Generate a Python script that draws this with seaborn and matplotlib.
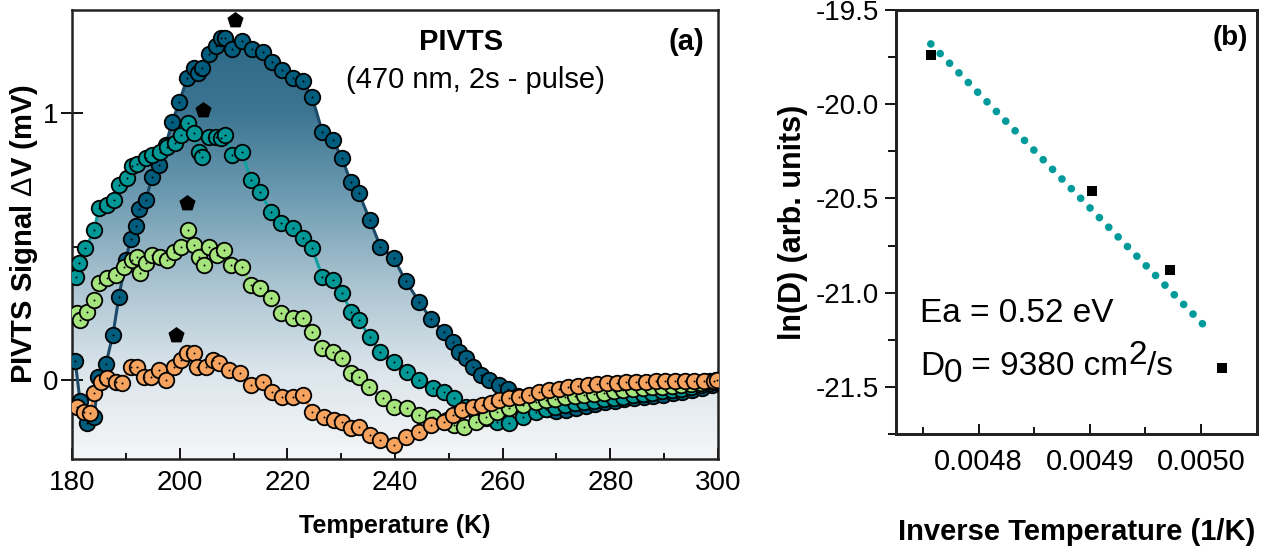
import numpy as np
import pandas as pd
import matplotlib
matplotlib.use("Agg")
import matplotlib.pyplot as plt
from matplotlib.colors import LinearSegmentedColormap
from matplotlib.patches import Rectangle
from matplotlib.ticker import MultipleLocator, FormatStrFormatter
import seaborn as sns

# ---- panel (a) data : PIVTS signal (mV) vs temperature (K)
T_dark = [180.6, 181.5, 182.8, 184.1, 184.9, 186.3, 187.6, 188.7, 190.0, 190.9, 191.8, 192.4,
          193.7, 194.9, 196.1, 197.4, 198.6, 199.9, 201.4, 202.6, 203.4, 204.2, 205.4, 206.7,
          207.6, 208.4, 209.8, 211.6, 213.5, 215.4, 217.2, 219.1, 221.0, 222.9, 224.6, 226.5,
          228.4, 230.2, 231.8, 233.3, 235.3, 237.3, 239.8, 242.0, 244.5, 246.6, 249.1, 250.7,
          251.9, 253.1, 254.4, 255.9, 257.5, 259.3, 261.0, 262.8, 264.6, 266.4, 268.2, 270.0,
          271.8, 273.6, 275.4, 277.2, 279.0, 280.8, 282.6, 284.4, 286.2, 288.0, 289.8, 291.6,
          293.4, 295.2, 297.0, 298.8, 299.6]
V_dark = [0.07, -0.08, -0.16, -0.14, 0.01, 0.06, 0.17, 0.31, 0.45, 0.53, 0.575, 0.64,
          0.675, 0.76, 0.805, 0.88, 0.965, 1.04, 1.13, 1.17, 1.15, 1.17, 1.22, 1.25,
          1.28, 1.28, 1.24, 1.27, 1.24, 1.23, 1.19, 1.16, 1.13, 1.12, 1.06, 0.93,
          0.90, 0.83, 0.74, 0.70, 0.60, 0.50, 0.456, 0.37, 0.293, 0.23, 0.18, 0.143,
          0.106, 0.081, 0.05, 0.019, 0.0, -0.02, -0.035, -0.06, -0.085, -0.10, -0.11, -0.115,
          -0.112, -0.105, -0.097, -0.09, -0.083, -0.077, -0.072, -0.068, -0.063, -0.059, -0.055, -0.05,
          -0.045, -0.038, -0.03, -0.018, -0.008]

T_teal = [180.7, 181.3, 182.5, 184.1, 185.0, 186.5, 187.8, 188.7, 190.3, 191.2, 192.1, 193.7,
          194.9, 196.4, 197.7, 199.2, 200.2, 201.5, 202.6, 203.6, 204.2, 205.4, 206.7, 207.6,
          208.5, 209.8, 211.6, 213.2, 215.0, 216.9, 218.8, 221.0, 222.9, 224.6, 226.5, 228.4,
          230.2, 231.8, 233.3, 235.3, 237.3, 239.8, 242.3, 244.5, 247.0, 249.1, 251.0, 253.1,
          255.0, 256.9, 259.0, 261.2, 263.7, 266.2, 268.0, 269.8, 271.6, 273.4, 275.2, 277.0,
          278.8, 280.6, 282.4, 284.2, 286.0, 287.8, 289.6, 291.4, 293.2, 295.0, 296.8, 298.6, 299.6]
V_teal = [0.387, 0.437, 0.493, 0.56, 0.643, 0.655, 0.674, 0.73, 0.755, 0.80, 0.81, 0.83,
          0.843, 0.855, 0.874, 0.886, 0.918, 0.961, 0.924, 0.855, 0.836, 0.911, 0.911, 0.905,
          0.918, 0.843, 0.855, 0.75, 0.705, 0.63, 0.587, 0.568, 0.531, 0.493, 0.387, 0.375,
          0.325, 0.256, 0.225, 0.16, 0.106, 0.069, 0.031, 0.0, -0.031, -0.044, -0.069, -0.10,
          -0.125, -0.144, -0.156, -0.162, -0.137, -0.119, -0.108, -0.10, -0.094, -0.088, -0.083, -0.078,
          -0.072, -0.067, -0.062, -0.057, -0.052, -0.048, -0.043, -0.038, -0.033, -0.027, -0.02, -0.012, -0.005]

T_green = [181.0, 181.5, 182.8, 184.1, 185.0, 186.5, 188.1, 189.6, 191.2, 192.1, 192.7, 193.7,
           194.9, 196.4, 197.7, 198.9, 200.2, 201.6, 202.6, 203.6, 204.5, 205.4, 207.0, 208.2,
           209.5, 211.6, 213.2, 215.0, 216.9, 218.8, 221.0, 222.9, 224.6, 226.5, 228.4, 230.2,
           231.8, 233.3, 235.2, 237.7, 239.8, 242.3, 244.5, 247.0, 249.6, 251.0, 252.8, 255.0,
           256.9, 259.0, 261.2, 263.7, 266.2, 268.0, 269.8, 271.6, 273.4, 275.2, 277.0, 278.8,
           280.6, 282.4, 284.2, 286.0, 287.8, 289.6, 291.4, 293.2, 295.0, 296.8, 298.6, 299.6]
V_green = [0.25, 0.225, 0.256, 0.30, 0.362, 0.381, 0.393, 0.424, 0.45, 0.462, 0.40, 0.437,
           0.468, 0.462, 0.45, 0.48, 0.50, 0.56, 0.506, 0.462, 0.43, 0.50, 0.468, 0.487,
           0.43, 0.424, 0.356, 0.343, 0.306, 0.25, 0.231, 0.231, 0.181, 0.119, 0.106, 0.081,
           0.025, 0.012, -0.025, -0.069, -0.10, -0.106, -0.131, -0.137, -0.15, -0.169, -0.175, -0.156,
           -0.137, -0.119, -0.106, -0.094, -0.081, -0.075, -0.07, -0.065, -0.06, -0.056, -0.051, -0.047,
           -0.043, -0.039, -0.035, -0.031, -0.028, -0.025, -0.021, -0.018, -0.014, -0.01, -0.005, 0.0]

T_orange = [181.0, 182.2, 183.4, 184.1, 185.3, 186.5, 188.1, 189.3, 190.9, 192.1, 193.3, 194.6,
            196.1, 197.4, 198.9, 200.2, 201.4, 202.6, 203.3, 204.8, 206.1, 207.3, 209.2, 211.3,
            213.2, 215.4, 217.2, 219.1, 221.0, 222.9, 224.6, 226.8, 228.7, 230.2, 231.8, 233.3,
            235.3, 237.3, 239.8, 242.0, 244.5, 246.6, 249.1, 250.7, 252.5, 254.4, 256.2, 257.8,
            259.3, 261.2, 263.0, 264.9, 266.8, 268.6, 270.4, 272.2, 274.0, 275.8, 277.6, 279.4,
            281.2, 283.0, 284.8, 286.6, 288.4, 290.2, 292.0, 293.8, 295.6, 297.4, 299.2, 299.8]
V_orange = [-0.10, -0.12, -0.124, -0.05, -0.006, 0.007, -0.006, -0.01, 0.05, 0.05, 0.012, 0.012,
            0.037, 0.0, 0.05, 0.075, 0.10, 0.10, 0.05, 0.05, 0.075, 0.062, 0.037, 0.025,
            -0.019, -0.006, -0.044, -0.063, -0.063, -0.056, -0.119, -0.137, -0.15, -0.156, -0.18, -0.175,
            -0.206, -0.225, -0.243, -0.212, -0.194, -0.169, -0.156, -0.131, -0.112, -0.10, -0.094, -0.087,
            -0.075, -0.069, -0.063, -0.056, -0.044, -0.038, -0.032, -0.027, -0.022, -0.018, -0.015, -0.012,
            -0.01, -0.008, -0.007, -0.006, -0.005, -0.005, -0.004, -0.004, -0.003, -0.003, -0.002, 0.0]

# peak markers (black pentagons)
T_peak = [210.2, 204.3, 201.3, 199.4]
V_peak = [1.35, 1.01, 0.663, 0.169]

# ---- panel (b) data : Arrhenius plot
inv_T = [0.004757, 0.0049015, 0.0049725, 0.0050186]
lnD = [-19.74, -20.463, -20.882, -21.401]
fit_x = [0.004757, 0.005007]
fit_y = [-19.68, -21.20]

series = [
    ("dark", T_dark, V_dark, "#005d7d", "#1d4a68"),
    ("teal", T_teal, V_teal, "#009797", "#11a0a0"),
    ("green", T_green, V_green, "#a6e47d", "#8fd868"),
    ("orange", T_orange, V_orange, "#f5a35e", "#e99050"),
]

sns.set_theme(style="ticks")
plt.rcParams['font.family'] = ['Liberation Sans', 'DejaVu Sans']
plt.rcParams['mathtext.fontset'] = 'custom'
plt.rcParams['mathtext.rm'] = 'Liberation Sans'
plt.rcParams['mathtext.it'] = 'Liberation Sans'
plt.rcParams['axes.unicode_minus'] = False
for key in ['text.color', 'axes.labelcolor', 'xtick.color', 'ytick.color', 'axes.edgecolor']:
    plt.rcParams[key] = 'black'

fig = plt.figure(figsize=(12.78, 5.55), dpi=100)
ax = fig.add_axes([72/1278, 96/555, 646/1278, 449/555])
axb = fig.add_axes([896/1278, 121/555, 361/1278, 424/555])

# ---- panel (a)
ax.set_xlim(180, 300)
ax.set_ylim(-0.296, 1.386)

# gradient under the upper envelope of all curves
grid = np.linspace(180, 300, 800)
env = np.max([np.interp(grid, t, v) for _, t, v, _, _ in series], axis=0)
poly = ax.fill_between(grid, env, -0.296, color="none", lw=0)
cmap = LinearSegmentedColormap.from_list(
    "bg", ["#f5f6f8", "#dbe5eb", "#abc4d1", "#6e9cb2", "#3c7592", "#2a6685"])
grad = np.linspace(0, 1, 256).reshape(-1, 1)
im = ax.imshow(grad, extent=[180, 300, -0.296, 1.33], origin="lower", aspect="auto",
               cmap=cmap, zorder=0.5)
im.set_clip_path(poly.get_paths()[0], transform=ax.transData)

for name, t, v, fc, lc in series:
    df = pd.DataFrame({"T": t, "V": v})
    sns.lineplot(data=df, x="T", y="V", ax=ax, sort=False, color=lc, lw=2.2, zorder=2)
    sns.scatterplot(data=df, x="T", y="V", ax=ax, s=125, color=fc, edgecolor="black",
                    linewidth=1.3, zorder=3)
    sns.scatterplot(data=df, x="T", y="V", ax=ax, s=2, color="black", linewidth=0, zorder=3)

sns.scatterplot(x=T_peak, y=V_peak, ax=ax, marker="p", s=150, color="black", linewidth=0, zorder=4)

ax.xaxis.set_major_locator(MultipleLocator(20))
ax.xaxis.set_minor_locator(MultipleLocator(10))
ax.yaxis.set_major_locator(MultipleLocator(1))
ax.yaxis.set_minor_locator(MultipleLocator(0.5))
ax.tick_params(axis="x", which="major", direction="in", length=8, width=1.3, labelsize=20, pad=8)
ax.tick_params(axis="x", which="minor", direction="in", length=4, width=1.3)
ax.tick_params(axis="y", which="major", direction="inout", length=16, width=1.3, labelsize=20, pad=2)
ax.tick_params(axis="y", which="minor", direction="in", length=5, width=1.3)
for sp in ax.spines.values():
    sp.set_linewidth(1.8)
    sp.set_color("#222222")
ax.set_xlabel("Temperature (K)", fontsize=18, fontweight="bold", labelpad=13)
ax.set_ylabel(r"PIVTS Signal $\Delta$V (mV)", fontsize=21, fontweight="bold", labelpad=2)

ax.text(252.2, 1.266, "PIVTS", fontsize=21, fontweight="bold", ha="center", va="center")
ax.text(255.0, 1.124, "(470 nm, 2s - pulse)", fontsize=21, ha="center", va="center")
ax.text(294.2, 1.266, "(a)", fontsize=21, fontweight="bold", ha="center", va="center")

# ---- panel (b)
axb.set_xlim(0.0047257, 0.0050503)
axb.set_ylim(-21.75, -19.5)
axb.plot(fit_x, fit_y, color="#009a9a", lw=5.5, linestyle=(0, (0.01, 1.75)),
         dash_capstyle="round", solid_capstyle="round")
sns.scatterplot(x=inv_T, y=lnD, ax=axb, marker="s", s=60, color="black", linewidth=0, zorder=3)

axb.xaxis.set_major_locator(MultipleLocator(0.0001))
axb.xaxis.set_minor_locator(MultipleLocator(0.00005))
axb.yaxis.set_major_locator(MultipleLocator(0.5))
axb.yaxis.set_minor_locator(MultipleLocator(0.25))
axb.xaxis.set_major_formatter(FormatStrFormatter("%.4f"))
axb.yaxis.set_major_formatter(FormatStrFormatter("%.1f"))
axb.tick_params(axis="x", which="major", direction="in", length=7, width=1.3, labelsize=21, pad=10)
axb.tick_params(axis="x", which="minor", direction="in", length=5, width=1.3)
axb.tick_params(axis="y", which="major", direction="out", length=8, width=1.3, labelsize=20, pad=4)
axb.tick_params(axis="y", which="minor", direction="out", length=6, width=1.3)
for sp in axb.spines.values():
    sp.set_linewidth(2.0)
    sp.set_color("#222222")
# full frame round panel (b)
axb.add_patch(Rectangle((0, 0), 1, 1, transform=axb.transAxes, fill=False,
                        lw=2.0, ec="#222222", clip_on=False, zorder=5))
axb.set_xlabel("Inverse Temperature (1/K)", fontsize=21, fontweight="bold", labelpad=30)
axb.set_ylabel("ln(D) (arb. units)", fontsize=22, fontweight="bold", labelpad=6)

axb.text(0.925, 0.934, "(b)", transform=axb.transAxes, fontsize=20, fontweight="bold",
         ha="center", va="center")
axb.text(0.066, 0.285, "Ea = 0.52 eV", transform=axb.transAxes, fontsize=24, ha="left", va="center")

# D0 line: subscript / superscript at full size, shifted like the original
renderer = fig.canvas.get_renderer()
x0 = 0.066
for part, dy in [("D", 0.0), ("0", -0.018), (" = 9380 cm", 0.0), ("2", 0.024), ("/s", 0.0)]:
    t = axb.text(x0, 0.16 + dy, part, transform=axb.transAxes, fontsize=24,
                 ha="left", va="center")
    x0 += t.get_window_extent(renderer).width / axb.bbox.width

fig.savefig("out.png", dpi=100)
